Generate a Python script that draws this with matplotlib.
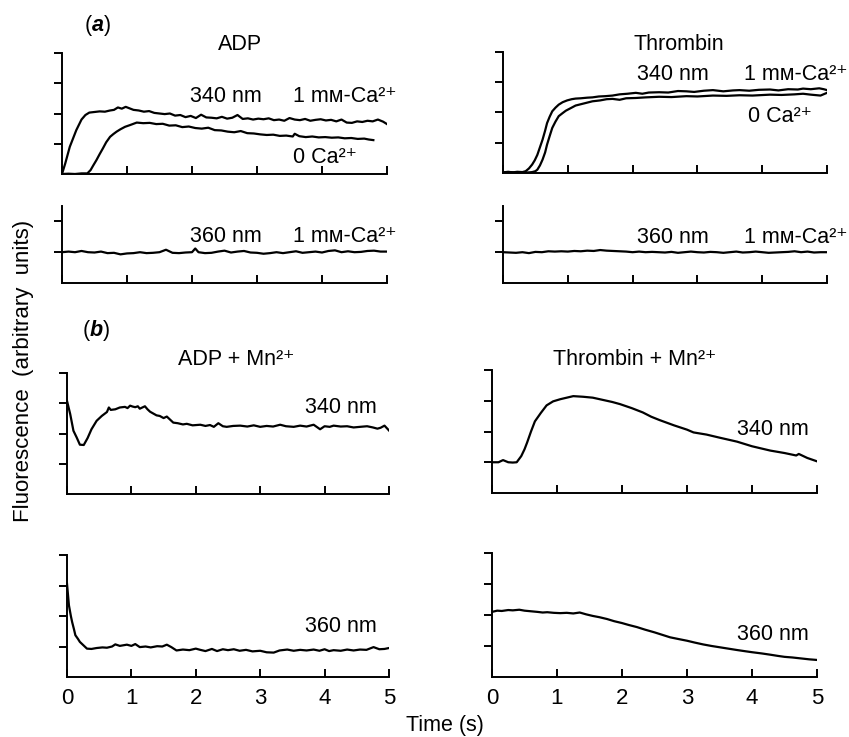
import numpy as np
import matplotlib
matplotlib.use("Agg")
import matplotlib.pyplot as plt

W, H = 849, 737

# ---- traces: (time s, fluorescence a.u.) ----
ADP_340_CA = [(0, 0), (0.05, 0.35), (0.12, 0.9), (0.22, 1.45), (0.30, 1.8), (0.36, 1.95), (0.42, 2.03),
              (0.50, 2.05), (0.58, 2.07), (0.66, 2.06), (0.74, 2.10), (0.80, 2.12), (0.86, 2.20), (0.92, 2.16),
              (0.98, 2.22), (1.04, 2.17), (1.10, 2.12), (1.18, 2.10), (1.26, 2.06), (1.34, 2.08), (1.42, 2.02),
              (1.50, 2.00), (1.58, 1.98), (1.66, 2.00), (1.74, 1.93), (1.82, 1.95), (1.90, 1.88), (1.98, 1.92),
              (2.06, 1.85), (2.14, 1.96), (2.22, 1.87), (2.30, 1.86), (2.38, 1.84), (2.46, 1.89), (2.54, 1.83),
              (2.62, 1.86), (2.70, 1.95), (2.78, 1.82), (2.86, 1.84), (2.94, 1.80), (3.02, 1.83), (3.10, 1.81),
              (3.18, 1.84), (3.26, 1.78), (3.34, 1.80), (3.42, 1.76), (3.50, 1.85), (3.58, 1.80), (3.66, 1.78),
              (3.74, 1.82), (3.82, 1.76), (3.90, 1.79), (3.98, 1.81), (4.06, 1.77), (4.14, 1.79), (4.22, 1.74),
              (4.30, 1.80), (4.38, 1.70), (4.46, 1.69), (4.54, 1.74), (4.62, 1.72), (4.70, 1.76), (4.78, 1.74),
              (4.86, 1.80), (4.94, 1.73), (5.0, 1.65)]
ADP_340_0CA = [(0, 0), (0.1, 0.01), (0.2, 0.0), (0.3, 0.02), (0.39, 0.02), (0.44, 0.13), (0.48, 0.28),
               (0.53, 0.46), (0.58, 0.66), (0.63, 0.85), (0.68, 1.05), (0.74, 1.23), (0.79, 1.32), (0.84, 1.40),
               (0.90, 1.48), (0.97, 1.56), (1.05, 1.62), (1.15, 1.70), (1.25, 1.68), (1.35, 1.69), (1.45, 1.65),
               (1.55, 1.66), (1.65, 1.60), (1.75, 1.61), (1.85, 1.55), (1.95, 1.57), (2.05, 1.52), (2.15, 1.50),
               (2.25, 1.53), (2.35, 1.45), (2.45, 1.44), (2.55, 1.40), (2.65, 1.38), (2.75, 1.42), (2.85, 1.35),
               (2.95, 1.34), (3.05, 1.31), (3.15, 1.29), (3.25, 1.30), (3.35, 1.26), (3.45, 1.27), (3.55, 1.24),
               (3.58, 1.33), (3.65, 1.25), (3.75, 1.22), (3.85, 1.24), (3.95, 1.21), (4.05, 1.22), (4.15, 1.20),
               (4.25, 1.21), (4.35, 1.18), (4.45, 1.19), (4.55, 1.16), (4.65, 1.17), (4.72, 1.14), (4.79, 1.12)]
ADP_360_CA = [(0, 1.0), (0.1, 1.02), (0.2, 1.0), (0.3, 1.04), (0.4, 1.0), (0.5, 0.99), (0.6, 1.02), (0.7, 0.97),
              (0.8, 0.98), (0.9, 0.93), (1.0, 0.96), (1.1, 0.97), (1.2, 1.0), (1.3, 0.97), (1.4, 0.98), (1.5, 1.0),
              (1.6, 1.08), (1.7, 0.98), (1.8, 0.97), (1.9, 0.99), (2.0, 1.0), (2.05, 1.12), (2.1, 1.0), (2.2, 0.97),
              (2.3, 0.98), (2.4, 1.02), (2.5, 1.05), (2.6, 0.99), (2.7, 1.02), (2.8, 1.04), (2.9, 0.99), (3.0, 0.98),
              (3.1, 0.95), (3.2, 0.97), (3.3, 1.0), (3.4, 0.97), (3.5, 1.0), (3.6, 1.03), (3.7, 0.98), (3.8, 1.0),
              (3.9, 1.02), (4.0, 0.99), (4.1, 1.04), (4.2, 1.06), (4.3, 1.0), (4.4, 1.03), (4.5, 1.0), (4.6, 1.01),
              (4.7, 1.04), (4.8, 1.05), (4.9, 1.02), (5.0, 1.02)]
THR_340_CA = [(0, 0.02), (0.08, 0.04), (0.15, 0.02), (0.22, 0.04), (0.30, 0.03), (0.35, 0.06), (0.40, 0.15),
              (0.45, 0.28), (0.49, 0.42), (0.53, 0.6), (0.57, 0.85), (0.61, 1.1), (0.65, 1.4), (0.68, 1.65),
              (0.72, 1.86), (0.76, 2.04), (0.81, 2.16), (0.86, 2.26), (0.92, 2.34), (0.99, 2.40), (1.06, 2.44),
              (1.12, 2.46), (1.20, 2.47), (1.30, 2.49), (1.38, 2.50), (1.48, 2.53), (1.58, 2.54), (1.69, 2.56),
              (1.80, 2.60), (1.92, 2.62), (2.05, 2.65), (2.15, 2.62), (2.25, 2.66), (2.41, 2.67), (2.55, 2.66),
              (2.70, 2.71), (2.83, 2.70), (2.95, 2.68), (3.10, 2.72), (3.24, 2.74), (3.40, 2.70), (3.55, 2.73),
              (3.65, 2.74), (3.80, 2.72), (3.95, 2.75), (4.12, 2.76), (4.25, 2.73), (4.40, 2.77), (4.55, 2.76),
              (4.63, 2.79), (4.75, 2.77), (4.88, 2.80), (4.95, 2.77), (5.0, 2.74)]
THR_340_0CA = [(0, 0.02), (0.1, 0.03), (0.2, 0.02), (0.3, 0.01), (0.40, 0.02), (0.45, 0.03), (0.50, 0.06),
               (0.53, 0.11), (0.57, 0.25), (0.61, 0.44), (0.65, 0.68), (0.68, 0.94), (0.72, 1.22), (0.76, 1.49),
               (0.81, 1.70), (0.86, 1.88), (0.92, 1.98), (0.97, 2.06), (1.05, 2.15), (1.12, 2.23), (1.25, 2.30),
               (1.38, 2.37), (1.50, 2.40), (1.60, 2.44), (1.69, 2.45), (1.80, 2.42), (1.90, 2.47), (2.05, 2.48),
               (2.20, 2.50), (2.41, 2.52), (2.60, 2.51), (2.83, 2.54), (3.00, 2.53), (3.24, 2.56), (3.45, 2.55),
               (3.65, 2.57), (3.85, 2.56), (4.12, 2.59), (4.30, 2.58), (4.50, 2.60), (4.63, 2.62), (4.75, 2.59),
               (4.90, 2.56), (5.0, 2.65)]
THR_360_CA = [(0, 1.0), (0.1, 0.99), (0.2, 0.98), (0.3, 1.0), (0.4, 0.97), (0.5, 1.01), (0.6, 1.0), (0.7, 1.03),
              (0.8, 1.02), (0.9, 1.03), (1.0, 1.02), (1.1, 1.04), (1.2, 1.03), (1.3, 1.05), (1.4, 1.04), (1.5, 1.07),
              (1.6, 1.05), (1.7, 1.04), (1.8, 1.03), (1.9, 1.02), (2.0, 1.0), (2.1, 1.02), (2.2, 1.0), (2.3, 1.01),
              (2.4, 1.0), (2.5, 0.99), (2.6, 1.01), (2.7, 0.98), (2.8, 1.0), (2.9, 1.02), (3.0, 1.0), (3.1, 0.99),
              (3.2, 1.01), (3.3, 1.0), (3.4, 0.98), (3.5, 1.0), (3.6, 1.02), (3.7, 0.99), (3.8, 1.0), (3.9, 1.02),
              (4.0, 1.0), (4.1, 0.98), (4.2, 0.99), (4.3, 1.0), (4.4, 1.01), (4.5, 1.03), (4.6, 1.0), (4.7, 1.02),
              (4.8, 0.99), (4.9, 1.0), (5.0, 1.0)]
ADPMN_340 = [(0, 3.08), (0.05, 2.64), (0.10, 2.09), (0.15, 1.87), (0.20, 1.63), (0.26, 1.62), (0.32, 1.85),
             (0.38, 2.14), (0.46, 2.42), (0.54, 2.58), (0.62, 2.71), (0.65, 2.86), (0.68, 2.78), (0.75, 2.80),
             (0.82, 2.86), (0.90, 2.88), (0.94, 2.84), (0.98, 2.92), (1.02, 2.89), (1.06, 2.87), (1.10, 2.90),
             (1.13, 2.82), (1.17, 2.86), (1.21, 2.90), (1.25, 2.80), (1.29, 2.72), (1.34, 2.66), (1.39, 2.60),
             (1.44, 2.58), (1.50, 2.51), (1.55, 2.56), (1.58, 2.50), (1.65, 2.36), (1.72, 2.34), (1.80, 2.30),
             (1.86, 2.32), (1.95, 2.27), (2.07, 2.29), (2.15, 2.25), (2.22, 2.28), (2.28, 2.22), (2.35, 2.34),
             (2.42, 2.24), (2.48, 2.22), (2.58, 2.25), (2.69, 2.26), (2.80, 2.23), (2.90, 2.27), (3.00, 2.22),
             (3.10, 2.25), (3.20, 2.23), (3.31, 2.29), (3.40, 2.24), (3.52, 2.22), (3.62, 2.26), (3.72, 2.23),
             (3.83, 2.29), (3.93, 2.14), (4.00, 2.24), (4.08, 2.22), (4.14, 2.26), (4.25, 2.23), (4.35, 2.24),
             (4.45, 2.20), (4.55, 2.22), (4.66, 2.24), (4.75, 2.20), (4.82, 2.16), (4.87, 2.19), (4.93, 2.26),
             (5.0, 2.10)]
ADPMN_360 = [(0, 3.06), (0.03, 2.35), (0.06, 2.0), (0.08, 1.80), (0.11, 1.55), (0.13, 1.37), (0.17, 1.25),
             (0.20, 1.15), (0.25, 1.05), (0.31, 0.93), (0.38, 0.92), (0.46, 0.95), (0.55, 0.97), (0.62, 0.96),
             (0.70, 1.00), (0.75, 1.07), (0.82, 1.02), (0.93, 1.06), (1.00, 1.02), (1.06, 1.08), (1.13, 0.98),
             (1.22, 1.00), (1.30, 0.97), (1.40, 1.01), (1.48, 1.00), (1.55, 1.06), (1.62, 0.98), (1.70, 0.87),
             (1.80, 0.90), (1.90, 0.88), (2.00, 0.93), (2.07, 0.89), (2.15, 0.85), (2.25, 0.92), (2.33, 0.85),
             (2.42, 0.91), (2.50, 0.88), (2.59, 0.91), (2.68, 0.86), (2.78, 0.89), (2.88, 0.84), (3.00, 0.86),
             (3.10, 0.81), (3.21, 0.80), (3.30, 0.87), (3.42, 0.90), (3.52, 0.86), (3.62, 0.89), (3.72, 0.87),
             (3.83, 0.90), (3.92, 0.86), (4.00, 0.91), (4.07, 0.85), (4.14, 0.88), (4.25, 0.86), (4.35, 0.90),
             (4.45, 0.87), (4.55, 0.90), (4.65, 0.89), (4.76, 0.98), (4.85, 0.91), (4.93, 0.92), (5.0, 0.95)]
THRMN_340 = [(0, 1.0), (0.1, 1.0), (0.17, 1.07), (0.25, 1.0), (0.32, 0.99), (0.38, 1.0), (0.45, 1.2),
             (0.50, 1.42), (0.54, 1.64), (0.60, 2.0), (0.66, 2.33), (0.75, 2.6), (0.84, 2.85), (0.94, 2.98),
             (1.05, 3.05), (1.15, 3.10), (1.25, 3.15), (1.40, 3.13), (1.55, 3.10), (1.70, 3.03), (1.85, 2.96),
             (1.97, 2.89), (2.15, 2.76), (2.32, 2.62), (2.45, 2.48), (2.58, 2.37), (2.80, 2.20), (3.00, 2.06),
             (3.10, 1.97), (3.30, 1.90), (3.50, 1.80), (3.77, 1.67), (4.00, 1.52), (4.28, 1.38), (4.50, 1.30),
             (4.68, 1.22), (4.72, 1.27), (4.85, 1.14), (5.0, 1.03)]
THRMN_360 = [(0, 2.10), (0.08, 2.14), (0.15, 2.13), (0.25, 2.16), (0.32, 2.15), (0.42, 2.17), (0.50, 2.14),
             (0.60, 2.12), (0.70, 2.10), (0.78, 2.08), (0.85, 2.09), (0.95, 2.07), (1.05, 2.06), (1.15, 2.07),
             (1.25, 2.05), (1.35, 2.08), (1.45, 2.02), (1.55, 1.97), (1.65, 1.93), (1.77, 1.87), (1.88, 1.80),
             (2.00, 1.74), (2.10, 1.68), (2.23, 1.61), (2.35, 1.53), (2.50, 1.44), (2.62, 1.36), (2.74, 1.28),
             (2.88, 1.22), (3.00, 1.17), (3.12, 1.11), (3.25, 1.05), (3.38, 1.00), (3.50, 0.96), (3.62, 0.92),
             (3.77, 0.87), (3.90, 0.83), (4.00, 0.80), (4.15, 0.76), (4.28, 0.72), (4.40, 0.68), (4.50, 0.65),
             (4.62, 0.63), (4.75, 0.60), (4.88, 0.57), (5.0, 0.55)]

TIME_TICKS = [0, 1, 2, 3, 4, 5]
CA1 = "1 m\u1d0d-Ca\u00b2\u207a"
CA0 = "0 Ca\u00b2\u207a"
MN = "Mn\u00b2\u207a"

plt.rcParams["font.family"] = ["Liberation Sans", "DejaVu Sans"]
plt.rcParams["mathtext.fontset"] = "custom"
plt.rcParams["mathtext.rm"] = "Liberation Sans"
plt.rcParams["mathtext.it"] = "Liberation Sans:italic:bold"
fig = plt.figure(figsize=(W / 100, H / 100), dpi=100)


def fx(x):
    return x / W


def fy(y):
    return 1 - y / H


def panel(x0, x1, ytop, ybot, ymax, yticks, traces, xlabels=False):
    ax = fig.add_axes([fx(x0), fy(ybot), (x1 - x0) / W, (ybot - ytop) / H])
    for tr in traces:
        t, v = np.array(tr).T
        ax.plot(t, v, color="black", lw=1.6)
    ax.set_xlim(0, 5)
    ax.set_ylim(0, ymax)
    for s in ("top", "right"):
        ax.spines[s].set_visible(False)
    for s in ("left", "bottom"):
        ax.spines[s].set_linewidth(1.4)
    ax.set_xticks(TIME_TICKS)
    ax.set_yticks(yticks)
    ax.tick_params(axis="x", direction="in", length=6, width=1.4, pad=8,
                   labelsize=16, labelbottom=xlabels)
    ax.tick_params(axis="y", direction="out", length=6, width=1.4, labelleft=False)
    return ax


panel(62, 387, 53, 174, 4, [1, 2, 3, 4], [ADP_340_CA, ADP_340_0CA])
panel(62, 387, 206, 283, 2.5, [1, 2], [ADP_360_CA])
panel(503, 827, 52, 173, 4, [1, 2, 3, 4], [THR_340_CA, THR_340_0CA])
panel(503, 827, 206, 283, 2.5, [1, 2], [THR_360_CA])
panel(67, 389, 373, 494, 4, [1, 2, 3, 4], [ADPMN_340])
panel(67, 389, 555, 677, 4, [1, 2, 3, 4], [ADPMN_360], xlabels=True)
panel(492, 817, 370, 493, 4, [1, 2, 3, 4], [THRMN_340])
panel(492, 817, 553, 677, 4, [1, 2, 3, 4], [THRMN_360], xlabels=True)

FS = 15.5


def label(x, y, s, ha="left", size=FS):
    fig.text(fx(x), fy(y), s, ha=ha, va="baseline", fontsize=size)


label(84, 31, r"($\it{a}$)")
label(240, 50, "ADP", ha="center")
label(679, 50, "Thrombin", ha="center")
label(190, 102, "340 nm")
label(293, 102, CA1)
label(293, 163, CA0)
label(190, 242, "360 nm")
label(293, 242, CA1)
label(637, 80, "340 nm")
label(744, 80, CA1)
label(748, 122, CA0)
label(637, 243, "360 nm")
label(744, 243, CA1)

label(82, 336, r"($\it{b}$)")
label(178, 365, "ADP + " + MN)
label(553, 365, "Thrombin + " + MN)
label(305, 413, "340 nm")
label(305, 632, "360 nm")
label(737, 435, "340 nm")
label(737, 640, "360 nm")

label(445, 731, "Time (s)", ha="center")
fig.text(fx(24), fy(371), "Fluorescence  (arbitrary  units)", rotation=90,
         ha="center", va="center", fontsize=16)

fig.savefig("out.png", dpi=100)
